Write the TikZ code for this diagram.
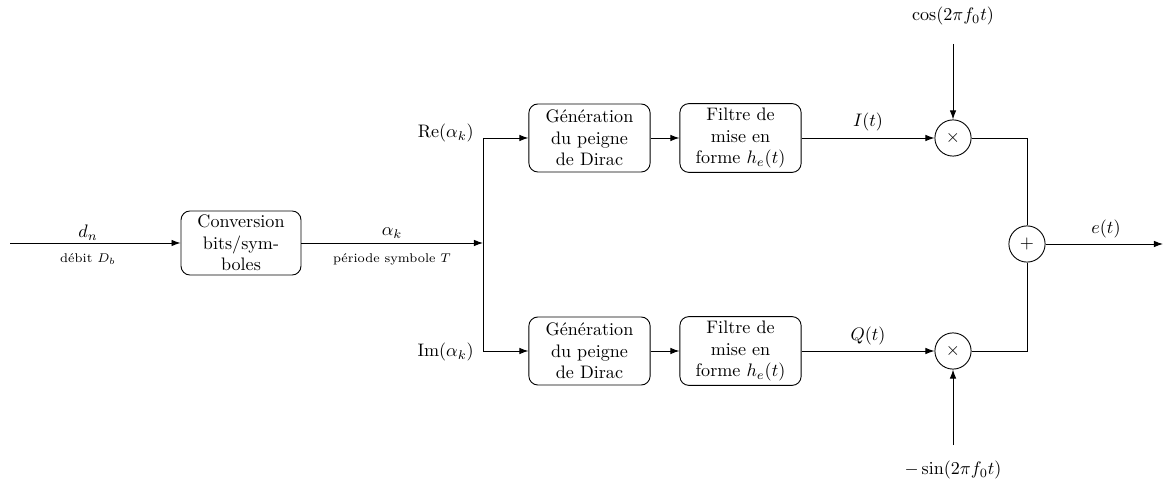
\documentclass[tikz,border=0pt]{standalone}
\usetikzlibrary{arrows.meta}
\begin{document}
\begin{tikzpicture}[x=0.5525pt,y=-0.5525pt,>={Latex[length=5pt,width=3.6pt]},line width=0.5pt,
  blk/.style={draw,rounded corners=5pt,align=center,inner sep=1pt},
  op/.style={draw,circle,minimum size=20pt,inner sep=0pt},
  lbl/.style={inner sep=1pt}]
\useasboundingbox (0,0) rectangle (1163,484);
% nodes
\coordinate (in) at (10,243);
\node[blk,minimum width=66.3pt,minimum height=35.4pt] (conv) at (241,243) {Conversion\\bits/sym-\\boles};
\coordinate (split) at (483,243);
\coordinate (reC) at (483,138);
\coordinate (imC) at (483,351);
\node[blk,minimum width=67pt,minimum height=37.6pt] (gen1) at (589.5,138) {Génération\\du peigne\\de Dirac};
\node[blk,minimum width=67pt,minimum height=37.6pt] (gen2) at (589.5,351) {Génération\\du peigne\\de Dirac};
\node[blk,minimum width=67pt,minimum height=38pt] (fil1) at (740.5,138) {Filtre de\\mise en\\forme $h_e(t)$};
\node[blk,minimum width=67pt,minimum height=38pt] (fil2) at (740.5,351) {Filtre de\\mise en\\forme $h_e(t)$};
\node[op] (m1) at (953,138) {$\times$};
\node[op] (m2) at (953,351) {$\times$};
\node[op] (sum) at (1027,244) {$+$};
\node[lbl] (cos) at (953,16) {$\cos(2\pi f_0 t)$};
\node[lbl] (sin) at (953,470) {$-\sin(2\pi f_0 t)$};
\coordinate (cosS) at (953,44);
\coordinate (sinS) at (953,445);
\coordinate (out) at (1163,244);
\coordinate (j1) at (1027,138);
\coordinate (j2) at (1027,351);
% labels
\node[lbl] (dn) at (88,233) {$d_n$};
\node[lbl] (db) at (88,259) {\scriptsize débit $D_b$};
\node[lbl] (ak) at (392,233) {$\alpha_k$};
\node[lbl] (per) at (392,259) {\scriptsize période symbole $T$};
\node[lbl,anchor=east] (re) at (476,133) {$\mathrm{Re}(\alpha_k)$};
\node[lbl,anchor=east] (im) at (476,352) {$\mathrm{Im}(\alpha_k)$};
\node[lbl] (It) at (868,122) {$I(t)$};
\node[lbl] (Qt) at (868,336) {$Q(t)$};
\node[lbl] (et) at (1106,229) {$e(t)$};
% connectors
\draw[->] (in) -- (conv.west);
\draw[->] (conv.east) -- (split);
\draw (reC) -- (imC);
\draw[->] (reC) -- (gen1.west);
\draw[->] (imC) -- (gen2.west);
\draw[->] (gen1) -- (fil1);
\draw[->] (gen2) -- (fil2);
\draw[->] (fil1.east) -- (m1.west);
\draw[->] (fil2.east) -- (m2.west);
\draw[->] (cosS) -- (m1.north);
\draw[->] (sinS) -- (m2.south);
\draw (m1.east) -- (j1) -- (sum.north);
\draw (m2.east) -- (j2) -- (sum.south);
\draw[->] (sum.east) -- (out);
\end{tikzpicture}
\end{document}
